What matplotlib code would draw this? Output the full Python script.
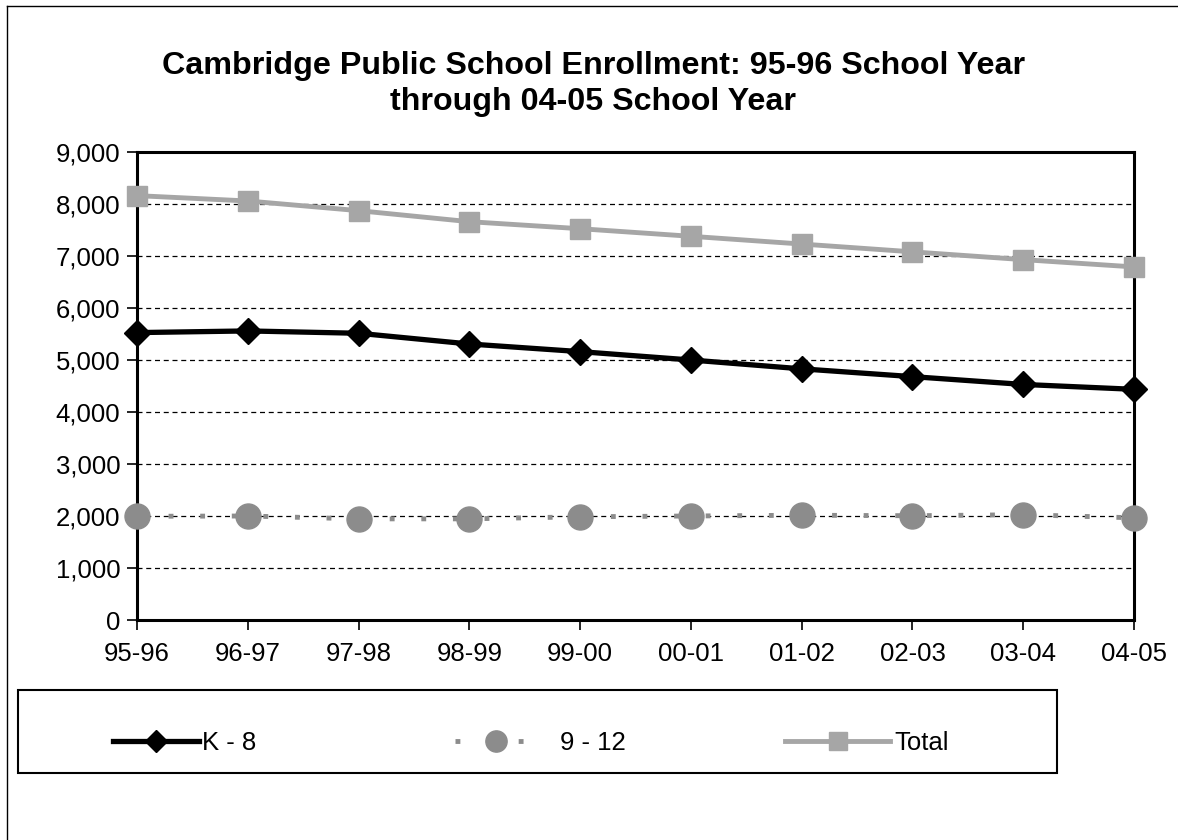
import matplotlib
matplotlib.use("Agg")
import matplotlib.pyplot as plt
from matplotlib.lines import Line2D
from matplotlib.patches import Rectangle

# data
years = ["95-96", "96-97", "97-98", "98-99", "99-00",
         "00-01", "01-02", "02-03", "03-04", "04-05"]
k8 = [5527, 5559, 5514, 5308, 5161, 5000, 4830, 4680, 4530, 4436]
g912 = [1994, 2000, 1945, 1945, 1985, 2000, 2015, 2005, 2025, 1965]
total = [8161, 8058, 7872, 7660, 7525, 7379, 7230, 7080, 6930, 6790]

plt.rcParams['font.family'] = ['Liberation Sans', 'DejaVu Sans']

W, H = 1178, 840
fig = plt.figure(figsize=(W / 100, H / 100), dpi=100)
ax = fig.add_axes([137 / W, 1 - 620 / H, (1134 - 137) / W, (620 - 152) / H])

x = list(range(len(years)))

# series
l_tot, = ax.plot(x, total, color='#a6a6a6', lw=3.5, marker='s', ms=15,
                 mec='#a6a6a6', mfc='#a6a6a6', label='Total', zorder=4, clip_on=False)
l_k8, = ax.plot(x, k8, color='black', lw=3.8, marker='D', ms=13,
                mec='black', mfc='black', label='K - 8', zorder=5, clip_on=False)
l_912, = ax.plot(x, g912, color='#8c8c8c', lw=3.5, ls=(0, (1, 5.5)), marker='o', ms=18,
                 mec='#8c8c8c', mfc='#8c8c8c', label='9 - 12', zorder=4, clip_on=False)

ax.set_xlim(0, len(years) - 1)
ax.set_ylim(0, 9000)
ax.set_yticks(range(0, 9001, 1000))
ax.set_yticklabels([f"{v:,}" for v in range(0, 9001, 1000)])
ax.set_xticks(x, labels=years)

ax.grid(axis='y', color='black', linestyle=(0, (4, 3)), lw=0.9)
ax.set_axisbelow(True)
for s in ax.spines.values():
    s.set_linewidth(2.2)
ax.tick_params(axis='both', labelsize=18.5, direction='out', width=1.2,
               length=7, pad=9)
ax.tick_params(axis='y', pad=5)

# title
title_x = 0.5 * (161 + 1026) / W
fig.text(title_x, 1 - 66 / H,
         "Cambridge Public School Enrollment: 95-96 School Year",
         ha='center', va='center', fontsize=23.2, fontweight='bold')
fig.text(title_x, 1 - 102 / H, "through 04-05 School Year",
         ha='center', va='center', fontsize=23.2, fontweight='bold')

# legend box + entries (one small legend per entry, like the Excel key)
fig.patches.append(Rectangle((18 / W, 1 - 773 / H), (1057 - 18) / W, (773 - 690) / H,
                             transform=fig.transFigure, fill=False,
                             edgecolor='black', lw=1.5))
entries = [(l_k8, 113, 3.35, 0.1), (l_912, 455, 3.2, 0.9), (l_tot, 785, 4.1, 0.15)]
for handle, x0, hlen, pad in entries:
    leg = fig.legend([handle], [handle.get_label()], loc='center left',
                     bbox_to_anchor=(x0 / W, 1 - 743 / H), frameon=False,
                     fontsize=18.5, handlelength=hlen, handletextpad=pad,
                     borderpad=0, borderaxespad=0, markerscale=0.85)

# scanned page edge
fig.add_artist(Line2D([7 / W, 7 / W], [0, 1 - 6 / H], color='black', lw=1,
                      transform=fig.transFigure))
fig.add_artist(Line2D([7 / W, 1], [1 - 6 / H, 1 - 6 / H], color='black', lw=1,
                      transform=fig.transFigure))

fig.savefig("out.png", dpi=100)
